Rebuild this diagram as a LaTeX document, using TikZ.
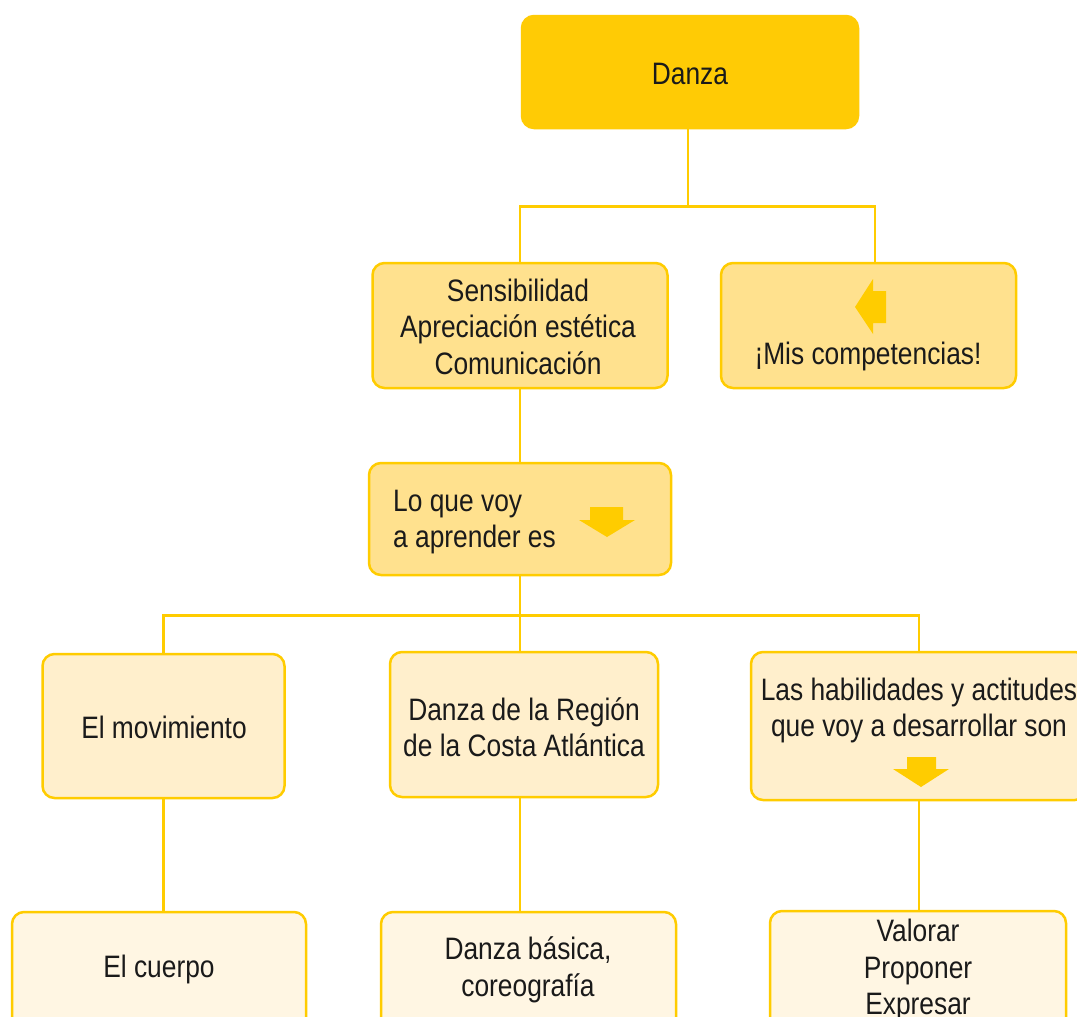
\documentclass[tikz,border=0pt]{standalone}
\usepackage{fontspec}
\setmainfont{Liberation Sans}[FakeStretch=0.85]
\definecolor{ydark}{HTML}{FFCB05}
\definecolor{yline}{HTML}{FFCC00}
\definecolor{ytwo}{HTML}{FFE18E}
\definecolor{ythree}{HTML}{FFEFCC}
\definecolor{yfour}{HTML}{FFF6E3}
\definecolor{ink}{HTML}{1A1A1A}
\tikzset{
  box/.style={draw=yline, line width=2.5pt, rounded corners=12pt, inner sep=0pt},
  conn/.style={draw=yline, line width=2.5pt},
  txt/.style={text=ink, align=center, inner sep=0pt, font=\fontsize{31}{36.5}\selectfont},
  tip/.style={fill=yline, draw=none}
}
\begin{document}
\begin{tikzpicture}[x=1pt,y=-1pt]
\useasboundingbox (0,0) rectangle (1077,1017);
\clip (0,0) rectangle (1077,1017);
\fill[white] (0,0) rectangle (1077,1017);
% boxes
\node[box, fill=ydark, draw=ydark, minimum width=336pt, minimum height=112pt] (danza) at (690,72) {};
\node[box, fill=ytwo, minimum width=295pt, minimum height=125pt] (sens) at (520,325.5) {};
\node[box, fill=ytwo, minimum width=295pt, minimum height=125pt] (mis) at (868.5,325.5) {};
\node[box, fill=ytwo, minimum width=302pt, minimum height=112pt] (lqv) at (520,519) {};
\node[box, fill=ythree, minimum width=242pt, minimum height=144pt] (mov) at (163.5,726) {};
\node[box, fill=ythree, minimum width=268pt, minimum height=145pt] (reg) at (524,724.5) {};
\node[box, fill=ythree, minimum width=336pt, minimum height=148pt] (hab) at (919,726) {};
\node[box, fill=yfour, minimum width=294pt, minimum height=130pt] (cue) at (159,977) {};
\node[box, fill=yfour, minimum width=295pt, minimum height=130pt] (bas) at (528.5,977) {};
\node[box, fill=yfour, minimum width=296pt, minimum height=130pt] (val) at (918,976) {};
% connectors
\draw[conn] ([xshift=-2pt]danza.south) -- ++(0,77) coordinate (j1);
\draw[conn] (sens.north) |- (j1) -| ([xshift=6.5pt]mis.north);
\draw[conn] (sens.south) -- (lqv.north);
\draw[conn] (lqv.south) -- ++(0,39) coordinate (j2);
\draw[conn] (mov.north) |- (j2) -| (hab.north);
\draw[conn] (j2) -- ([xshift=-4pt]reg.north);
\draw[conn] (mov.south) -- (mov.south |- cue.north);
\draw[conn] ([xshift=-4pt]reg.south) -- ([xshift=-4pt]reg.south |- bas.north);
\draw[conn] (hab.south) -- (hab.south |- val.north);
% arrows
\fill[tip] (855,307) -- (873,279) -- (873,291) -- (886,291) -- (886,323) -- (873,323) -- (873,334) -- cycle;
\fill[tip] (607,537) -- (579,520) -- (590,520) -- (590,507) -- (623,507) -- (623,520) -- (635,520) -- cycle;
\fill[tip] (921,787) -- (893,769) -- (907,769) -- (907,757) -- (936,757) -- (936,769) -- (949,769) -- cycle;
% texts
\node[txt] (tdanza) at (690,73.5) {Danza};
\node[txt] (tsens) at (518,326.5) {Sensibilidad\\Apreciación estética\\Comunicación};
\node[txt] (tmis) at (868,356) {¡Mis competencias!};
\node[txt, align=left, anchor=west] (tlqv) at (393,522) {Lo que voy\\a aprender es};
\node[txt] (tmov) at (164,727.5) {El movimiento};
\node[txt] (treg) at (524,727) {Danza de la Región\\de la Costa Atlántica};
\node[txt] (thab) at (919,710.5) {Las habilidades y actitudes\\que voy a desarrollar son};
\node[txt] (tcue) at (159,969.5) {El cuerpo};
\node[txt] (tbas) at (528,970) {Danza básica,\\coreografía};
\node[txt] (tval) at (918,970) {Valorar\\Proponer\\Expresar};
\end{tikzpicture}
\end{document}
